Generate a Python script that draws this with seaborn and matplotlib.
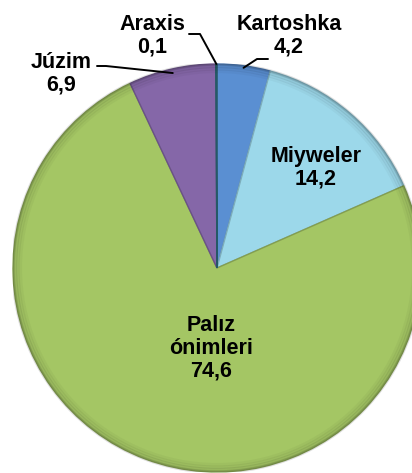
#!/usr/bin/env python3
"""Pie chart: structure of crop areas (percent)."""

import numpy as np
import seaborn as sns
from matplotlib import pyplot as plt

# Data, clockwise from 12 o'clock
categories = ["Kartoshka", "Miyweler", "Palız\nónimleri", "Júzim", "Araxis"]
values = [4.2, 14.2, 74.6, 6.9, 0.1]
value_labels = ["4,2", "14,2", "74,6", "6,9", "0,1"]
colors = ["#5a8fd2", "#9cd8ea", "#a4c664", "#8567a8", "#2e6f80"]

sns.set_theme(style="white")
plt.rcParams["font.family"] = ["Liberation Sans", "DejaVu Sans"]

fig = plt.figure(figsize=(4.12, 4.73), dpi=100)
W, H = 412, 473
cx, cy, r = 217, 268, 204
ax = fig.add_axes([(cx - r) / W, (H - cy - r) / H, 2 * r / W, 2 * r / H])

wedges, _ = ax.pie(
    values,
    colors=colors,
    startangle=90,
    counterclock=False,
    radius=1.0,
    wedgeprops=dict(linewidth=1.0, antialiased=True),
)
# darker outline per wedge
for w, c in zip(wedges, colors):
    rgb = np.array(plt.matplotlib.colors.to_rgb(c)) * 0.8
    w.set_edgecolor(rgb)

# subtle rim shading
for k, a in enumerate([0.12, 0.08, 0.05, 0.03]):
    ring = plt.matplotlib.patches.Circle((0, 0), 1.0 - k * 0.012, fill=False,
                                         lw=2.5, edgecolor="black", alpha=a)
    ax.add_patch(ring)

ax.set_xlim(-1, 1)
ax.set_ylim(-1, 1)
ax.set_aspect("equal")
ax.axis("off")


def px(x, y):
    """Convert figure pixel position (top-left origin) to data coords."""
    return (x - cx) / r, (cy - y) / r


def anchor(i, rr=1.0):
    w = wedges[i]
    ang = np.deg2rad((w.theta1 + w.theta2) / 2)
    return rr * np.cos(ang), rr * np.sin(ang)


txt = dict(fontsize=15.5, fontweight="bold", ha="center", va="center",
           linespacing=1.1, color="black")

# inside labels
ax.text(*px(316, 168), f"{categories[1]}\n{value_labels[1]}", **txt)
ax.text(*px(211, 348), f"{categories[2]}\n{value_labels[2]}", **txt)

# outside labels with leader lines
line = dict(color="black", lw=1.4, clip_on=False)

# Kartoshka
ax.text(*px(289, 36), f"{categories[0]}\n{value_labels[0]}", **txt)
ax.plot(*zip(anchor(0, 0.99), px(257, 59), px(268, 59)), **line)

# Júzim
ax.text(*px(61, 74), f"{categories[3]}\n{value_labels[3]}", **txt)
ax.plot(*zip(px(97, 66), px(106, 66), anchor(3, 0.98)), **line)

# Araxis
ax.text(*px(152, 36), f"{categories[4]}\n{value_labels[4]}", **txt)
ax.plot(*zip(px(189, 34), px(200, 34), anchor(4, 1.0)), **line)

plt.savefig("out.png", dpi=100)
plt.close()
